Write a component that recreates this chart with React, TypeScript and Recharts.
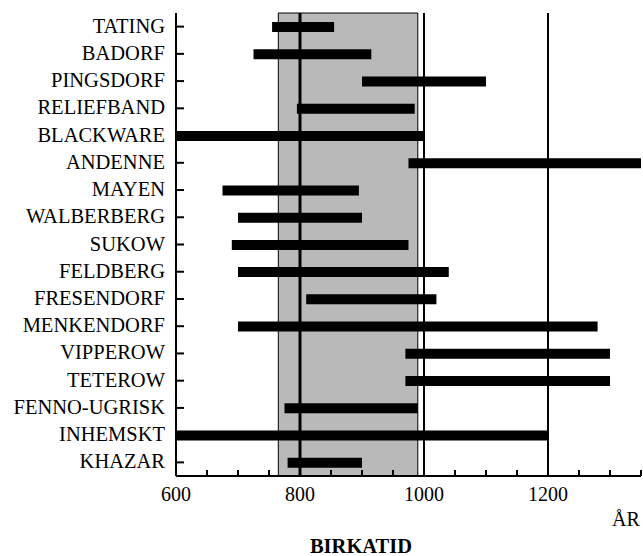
import { Bar, BarChart, ReferenceArea, ReferenceLine, XAxis, YAxis } from "recharts"

const wares = [
  "TATING",
  "BADORF",
  "PINGSDORF",
  "RELIEFBAND",
  "BLACKWARE",
  "ANDENNE",
  "MAYEN",
  "WALBERBERG",
  "SUKOW",
  "FELDBERG",
  "FRESENDORF",
  "MENKENDORF",
  "VIPPEROW",
  "TETEROW",
  "FENNO-UGRISK",
  "INHEMSKT",
  "KHAZAR",
]
const fromYear = [755, 725, 900, 795, 600, 975, 675, 700, 690, 700, 810, 700, 970, 970, 775, 600, 780]
const toYear = [855, 915, 1100, 985, 1000, 1350, 895, 900, 975, 1040, 1020, 1280, 1300, 1300, 990, 1200, 900]

const xTicks = [600, 650, 700, 750, 800, 850, 900, 950, 1000, 1050, 1100, 1150, 1200, 1250, 1300, 1350]
const xLabels = [600, 800, 1000, 1200]
const gridYears = [800, 1000, 1200]
const birkaStart = 765
const birkaEnd = 990

const data = wares.map((name, i) => ({ name, range: [fromYear[i], toYear[i]] }))

const font = '"Liberation Serif", "Times New Roman", serif'

const XTick = (props: any) => {
  const { x, y, payload } = props
  return (
    <g>
      <line x1={x} x2={x} y1={y} y2={y - 6} stroke="#000" strokeWidth={2} />
      {xLabels.includes(payload.value) && (
        <text x={x} y={y + 25} textAnchor="middle" fontFamily={font} fontSize={20} fill="#000">
          {payload.value}
        </text>
      )}
    </g>
  )
}

const YTick = (props: any) => {
  const { x, y, payload } = props
  return (
    <g>
      <line x1={x} x2={x + 8} y1={y} y2={y} stroke="#000" strokeWidth={2} />
      <text x={x - 11} y={y + 6} textAnchor="end" fontFamily={font} fontSize={20.5} fill="#000">
        {payload.value}
      </text>
    </g>
  )
}

export default function App() {
  return (
    <div style={{ position: "absolute", left: 0, top: 0, width: 643, height: 556, background: "#fff" }}>
      <BarChart
        width={643}
        height={556}
        data={data}
        layout="vertical"
        margin={{ top: 13, right: 2, bottom: 50, left: 0 }}
      >
        <XAxis
          type="number"
          domain={[600, 1350]}
          ticks={xTicks}
          interval={0}
          allowDataOverflow
          height={30}
          tickSize={0}
          tickMargin={0}
          tickLine={false}
          tick={<XTick />}
          axisLine={{ stroke: "#000", strokeWidth: 2 }}
        />
        <YAxis
          type="category"
          dataKey="name"
          width={176}
          tickSize={0}
          tickMargin={0}
          tickLine={false}
          interval={0}
          tick={<YTick />}
          axisLine={{ stroke: "#000", strokeWidth: 2 }}
        />
        <ReferenceArea x1={birkaStart} x2={birkaEnd} fill="#b9b9b9" fillOpacity={1} stroke="#000" strokeWidth={1} />
        {gridYears.map((yr) => (
          <ReferenceLine key={yr} x={yr} stroke="#000" strokeWidth={yr === 800 ? 3 : 2} />
        ))}
        <Bar dataKey="range" fill="#000" barSize={10} isAnimationActive={false} />
      </BarChart>
      <div
        style={{ position: "absolute", left: 612, top: 508, fontFamily: font, fontSize: 20, color: "#000" }}
      >
        ÅR
      </div>
      <div
        style={{
          position: "absolute",
          left: 0,
          width: 722,
          top: 535,
          textAlign: "center",
          fontFamily: font,
          fontSize: 20.5,
          fontWeight: "bold",
          color: "#000",
        }}
      >
        BIRKATID
      </div>
    </div>
  )
}
